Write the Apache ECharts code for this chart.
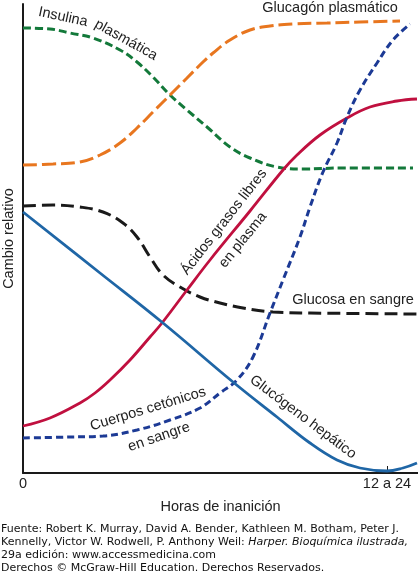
<!DOCTYPE html>
<html>
<head>
<meta charset="utf-8">
<script src="https://cdn.jsdelivr.net/npm/echarts@6/dist/echarts.min.js"></script>
<style>
  html, body { margin: 0; padding: 0; background: #fff; }
  #main { width: 418px; height: 577px; }
</style>
</head>
<body>
<div id="main"></div>
<script>
// values, [hours (relative), relative change]
const insulina = [[0,445],[27,444],[47,440],[70,435],[97,423],[114,411],[130,396],[147,378],[164,363],[184,346],[207,326],[227,315],[254,306],[280,304],[320,305],[390,305]];
const glucagon = [[0,308],[30,309],[57,311],[77,318],[97,330],[114,345],[130,361],[147,378],[164,395],[180,411],[190,420],[207,433],[227,443],[247,447],[270,449],[304,450],[337,451],[377,452]];
const glucosa = [[0,267],[30,268],[57,266],[80,261],[100,250],[114,236],[127,216],[140,198],[157,186],[177,176],[197,170],[220,165],[250,161],[287,160],[394,159]];
const acidosGrasos = [[0,47],[27,55],[57,70],[72,80],[87,93],[107,113],[127,136],[139,150],[164,183],[187,213],[227,262],[260,303],[274,318],[297,338],[324,355],[347,366],[374,372],[394,374]];
const cuerposCetonicos = [[0,35],[47,36],[80,37],[114,43],[147,53],[177,65],[197,80],[214,93],[230,116],[247,160],[260,193],[277,236],[287,266],[300,301],[314,330],[324,356],[337,383],[354,410],[370,433],[387,449]];
const glucogeno = [[0,261],[77,200],[140,150],[210,91],[254,56],[287,30],[314,13],[337,5],[364,2],[380,5],[394,10]];

const xTicks = [0, 364];
const xTickLabels = ['0', '12 a 24'];

const fuente = [
  'Fuente: Robert K. Murray, David A. Bender, Kathleen M. Botham, Peter J.',
  'Kennelly, Victor W. Rodwell, P. Anthony Weil: {i|Harper. Bioquímica ilustrada,}',
  '29a edición: www.accessmedicina.com',
  'Derechos © McGraw-Hill Education. Derechos Reservados.'
];

const txt = '#222';
const font = 'Liberation Sans, Arial, sans-serif';
const deg = Math.PI / 180;

let myChart = echarts.init(document.getElementById('main'), null, { renderer: 'canvas' });

function label(text, x, y, angle) {
  return {
    type: 'text', x: x, y: y, rotation: angle * deg, z: 10,
    style: { text: text, fill: txt, font: '14.5px ' + font, align: 'center', verticalAlign: 'middle' }
  };
}

function line(name, data, color, dash, width) {
  return {
    name: name, type: 'line', data: data, smooth: 0.4, showSymbol: false,
    lineStyle: { color: color, width: width || 3, type: dash || 'solid', cap: 'butt' },
    animation: false
  };
}

let option = {
  backgroundColor: '#fff',
  animation: false,
  grid: { left: 23, right: 0, top: 4, bottom: 104, containLabel: false, outerBoundsMode: 'none' },
  xAxis: {
    type: 'value', min: 0, max: 395,
    name: 'Horas de inanición', nameLocation: 'middle', nameGap: 26,
    nameTextStyle: { color: txt, fontSize: 14.5, fontFamily: font },
    axisLine: { lineStyle: { color: '#1a1a1a', width: 2 } },
    axisTick: { show: true, customValues: [xTicks[1]], inside: true, length: 7, lineStyle: { color: '#1a1a1a', width: 1 } },
    axisLabel: {
      customValues: xTicks, margin: 3, color: txt, fontSize: 14.5, fontFamily: font,
      formatter: v => xTickLabels[xTicks.indexOf(v)] || ''
    },
    splitLine: { show: false }
  },
  yAxis: {
    type: 'value', min: 0, max: 469,
    name: 'Cambio relativo', nameLocation: 'middle', nameGap: 7,
    nameTextStyle: { color: txt, fontSize: 14.5, fontFamily: font },
    axisLine: { show: true, lineStyle: { color: '#1a1a1a', width: 2 } },
    axisTick: { show: false }, axisLabel: { show: false }, splitLine: { show: false }
  },
  series: [
    line('Insulina plasmática', insulina, '#13793a', [8, 4]),
    line('Glucagón plasmático', glucagon, '#e8761f', [14, 5]),
    line('Glucosa en sangre', glucosa, '#1a1a1a', [13, 6]),
    line('Ácidos grasos libres en plasma', acidosGrasos, '#c0103f', 'solid', 2.8),
    line('Cuerpos cetónicos en sangre', cuerposCetonicos, '#1c3a95', [7, 4]),
    line('Glucógeno hepático', glucogeno, '#1f66a6', 'solid', 2.8)
  ],
  graphic: [
    label('Glucagón plasmático', 330, 8, 0),
    label('Insulina', 63, 17, -12),
    label('plasmática', 126, 40, -29),
    label('Ácidos grasos libres', 224, 222, 52),
    label('en plasma', 243, 240, 51),
    label('Glucosa en sangre', 353, 300, 0),
    label('Cuerpos cetónicos', 148, 409, 17),
    label('en sangre', 159, 437, 19),
    label('Glucógeno hepático', 303, 417, -37)
  ].concat(fuente.map((t, i) => ({
    type: 'text', left: 1, top: 524 + i * 13,
    style: {
      text: t, fill: '#111', font: '11px DejaVu Sans, sans-serif',
      rich: { i: { fontStyle: 'italic', fontSize: 11, fontFamily: 'DejaVu Sans, sans-serif', fill: '#111' } }
    }
  })))
};

option && myChart.setOption(option);
</script>
</body>
</html>
